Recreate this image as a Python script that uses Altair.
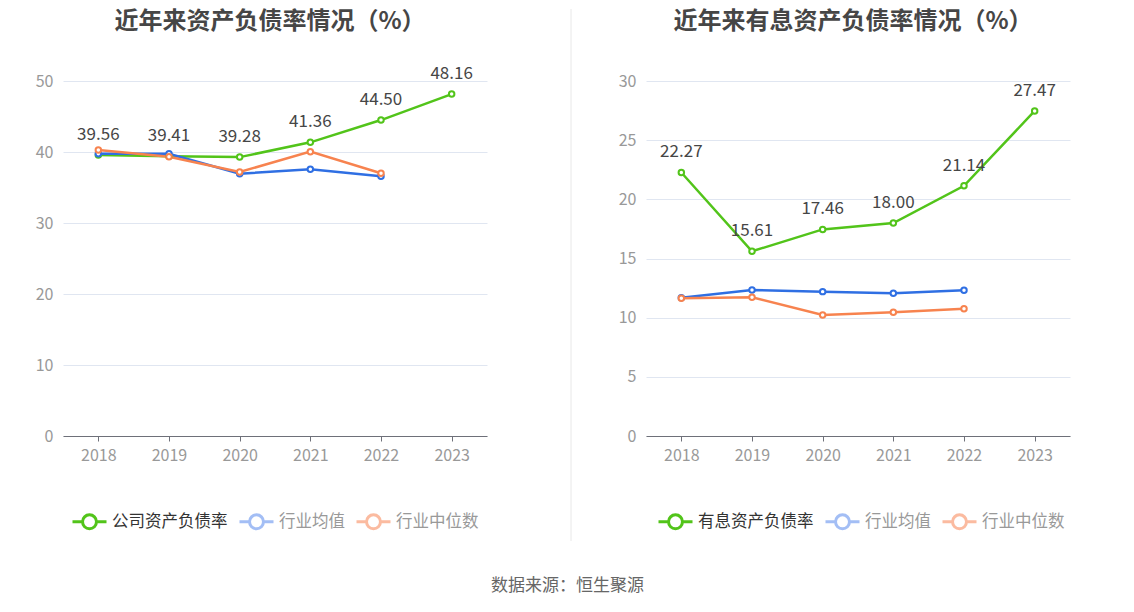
import altair as alt
import pandas as pd

years = ["2018", "2019", "2020", "2021", "2022", "2023"]

left_names = ["公司资产负债率", "行业均值", "行业中位数"]
left_company = [39.56, 39.41, 39.28, 41.36, 44.50, 48.16]
left_avg = [39.76, 39.76, 36.94, 37.56, 36.58]
left_median = [40.28, 39.34, 37.18, 40.05, 37.00]

right_names = ["有息资产负债率", "行业均值", "行业中位数"]
right_company = [22.27, 15.61, 17.46, 18.00, 21.14, 27.47]
right_avg = [11.69, 12.34, 12.20, 12.06, 12.31]
right_median = [11.65, 11.72, 10.23, 10.45, 10.76]

line_colors = ["#52c41a", "#2f6fe3", "#f7834f"]
legend_colors = ["#52c41a", "#a3bef5", "#fbbba0"]

FONT = "Noto Sans CJK SC"
W, H = 424, 355
SYMBOL = "M-1,0L-0.41,0M0.41,0L1,0M-0.41,0A0.41,0.41,0,1,1,0.41,0A0.41,0.41,0,1,1,-0.41,0"


def long_df(names, company, avg, median):
    rows = []
    for name, vals in zip(names, [company, avg, median]):
        for y, v in zip(years, vals):
            rows.append({"year": y, "series": name, "value": v})
    return pd.DataFrame(rows)


def panel(names, company, avg, median, title, ymax, step, legend_x, separator):
    df = long_df(names, company, avg, median)
    x = alt.X("year:O", sort=years,
              scale=alt.Scale(type="point", padding=0.5),
              axis=alt.Axis(title=None, labelAngle=0, domainColor="#6e7079",
                            tickColor="#6e7079", tickSize=5, labelColor="#999999",
                            labelFontSize=16, labelPadding=6, grid=False, labelFont=FONT))
    y = alt.Y("value:Q", scale=alt.Scale(domain=[0, ymax], nice=False, zero=True),
              axis=alt.Axis(title=None, values=list(range(0, ymax + 1, step)),
                            grid=True, gridColor="#e0e6f1", domain=False, ticks=False,
                            labelColor="#999999", labelFontSize=16, labelPadding=10,
                            minExtent=50, maxExtent=50, labelFont=FONT))
    # data-driven domain (sorted) so this scale does not merge with the legend scale
    color = alt.Color("series:N", sort=names, scale=alt.Scale(range=line_colors),
                      legend=None)
    base = alt.Chart(df).encode(x=x, y=y)
    lines = base.mark_line(strokeWidth=2.5).encode(color=color)
    points = base.mark_point(filled=False, fill="white", size=30, strokeWidth=2,
                             opacity=1).encode(color=color)
    labels = base.transform_filter(alt.datum.series == names[0]).mark_text(
        dy=-20, fontSize=17, color="#464646", font=FONT
    ).encode(text=alt.Text("value:Q", format=".2f"))
    label_color_expr = "datum.value == '%s' ? '#333333' : '#999999'" % names[0]
    legend_layer = base.mark_point(filled=False, opacity=0, size=1).encode(
        stroke=alt.Stroke("series:N",
                          scale=alt.Scale(domain=names, range=legend_colors),
                          legend=alt.Legend(title=None, orient="none", direction="horizontal",
                                            legendX=legend_x, legendY=422,
                                            symbolType=SYMBOL, symbolSize=1156,
                                            symbolStrokeWidth=3, symbolOpacity=1,
                                            labelFontSize=16.5, labelFont=FONT,
                                            labelColor={"expr": label_color_expr},
                                            labelOffset=4, columnPadding=5)))
    title_df = pd.DataFrame({"t": [title]})
    title_mark = alt.Chart(title_df).mark_text(
        fontSize=24, fontWeight="bold", color="#464646", font=FONT, baseline="middle"
    ).encode(text="t:N", x=alt.value(W / 2 - 5), y=alt.value(-59))
    layers = [lines, points, labels, legend_layer, title_mark]
    if separator:
        sep = alt.Chart(pd.DataFrame({"a": [0]})).mark_rule(
            color="#e8e8e8", strokeWidth=1
        ).encode(x=alt.value(-75), y=alt.value(-72), y2=alt.value(460))
        layers = [sep] + layers
    return alt.layer(*layers).properties(width=W, height=H)


left = panel(left_names, left_company, left_avg, left_median,
             "近年来资产负债率情况（%）", 50, 10, 8, False)
right = panel(right_names, right_company, right_avg, right_median,
              "近年来有息资产负债率情况（%）", 30, 5, 11, True)

chart = alt.hconcat(left, right, spacing=83).resolve_scale(
    color="independent", stroke="independent", x="independent", y="independent"
).properties(
    padding={"left": 5, "top": 0, "right": 5, "bottom": 5},
    title=alt.TitleParams("数据来源：恒生聚源", orient="bottom", anchor="middle",
                          fontSize=17, fontWeight="normal", color="#666666",
                          font=FONT, offset=36, dx=26),
).configure_view(stroke=None).configure_concat(spacing=83)

chart.save("out.html", embed_options={"renderer": "svg", "actions": False})
